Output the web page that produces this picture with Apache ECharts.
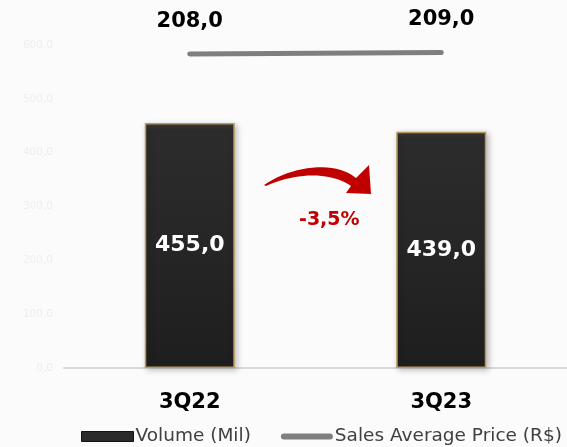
<!DOCTYPE html>
<html><head><meta charset="utf-8">
<script src="https://cdn.jsdelivr.net/npm/echarts@6/dist/echarts.min.js"></script>
<style>html,body{margin:0;padding:0;background:#fbfbfb}#c{width:567px;height:447px}</style>
</head><body><div id="c"></div>
<script>
const categories = ['3Q22', '3Q23'];
const volume = [455.0, 439.0];
const avgPrice = [208.0, 209.0];
const yTicks = [0, 100, 200, 300, 400, 500, 600];
const changeLabel = '-3,5%';
const fmt = v => v.toFixed(1).replace('.', ',');
const font = 'DejaVu Sans';

function bez(p0, p1, p2, p3, n) {
  const out = [];
  for (let i = 0; i <= n; i++) {
    const t = i / n, u = 1 - t;
    out.push([
      u*u*u*p0[0] + 3*u*u*t*p1[0] + 3*u*t*t*p2[0] + t*t*t*p3[0],
      u*u*u*p0[1] + 3*u*u*t*p1[1] + 3*u*t*t*p2[1] + t*t*t*p3[1]
    ]);
  }
  return out;
}
const arrowPts = [].concat(
  bez([264,185],[292,166],[334,160],[356,178],20),
  [[369,165],[371,194],[346,193]],
  bez([351,186],[332,172],[296,172],[266,186],20)
);

const chart = echarts.init(document.getElementById('c'));
chart.setOption({
  backgroundColor: '#fbfbfb',
  animation: false,
  grid: { left: 64, top: 45, width: 506, height: 323 },
  legend: {
    left: 76, top: 422, width: 1000, itemGap: 30, itemWidth: 52, itemHeight: 10,
    textStyle: { fontFamily: font, fontSize: 18.5, color: '#404040', padding: [0,0,0,-3] },
    data: [
      { name: 'Volume (Mil)', icon: 'rect', itemStyle: { color: '#2a2a2a', borderColor: '#111', borderWidth: 1 } },
      { name: 'Sales Average Price (R$)', icon: 'path://M3,0 L49,0 A3,3 0 0 1 49,6 L3,6 A3,3 0 0 1 3,0 Z', itemStyle: { color: '#7f7f7f', opacity: 1 } }
    ]
  },
  xAxis: {
    type: 'category', data: categories,
    axisLine: { lineStyle: { color: '#d9d9d9', width: 2 } },
    axisTick: { show: false },
    axisLabel: { margin: 24, fontFamily: font, fontWeight: 'bold', fontSize: 21, color: '#000' }
  },
  yAxis: [
    { type: 'value', min: 0, max: 600, interval: 100,
      splitLine: { show: false }, axisLine: { show: false }, axisTick: { show: false },
      axisLabel: { margin: 11, fontFamily: font, fontSize: 10.5, color: '#eeeeee', formatter: v => fmt(v) } },
    { type: 'value', min: 0, max: 214, show: false, splitLine: { show: false } }
  ],
  series: [
    { name: 'Volume (Mil)', type: 'bar', data: volume, barWidth: 90,
      itemStyle: {
        color: new echarts.graphic.LinearGradient(0, 0, 0, 1, [
          { offset: 0, color: '#3a3a3a' }, { offset: 0.03, color: '#2c2c2c' },
          { offset: 0.5, color: '#262626' }, { offset: 1, color: '#1e1e1e' }]),
        borderColor: '#b89858', borderWidth: 1.5,
        shadowColor: 'rgba(0,0,0,0.25)', shadowBlur: 6, shadowOffsetX: 2, shadowOffsetY: 2
      },
      label: { show: true, position: 'inside', formatter: p => fmt(p.value),
        fontFamily: font, fontWeight: 'bold', fontSize: 22, color: '#fff' } },
    { name: 'Sales Average Price (R$)', type: 'line', yAxisIndex: 1, data: avgPrice,
      symbol: 'circle', symbolSize: 2, itemStyle: { color: 'rgba(0,0,0,0)', borderWidth: 0 },
      lineStyle: { color: '#7f7f7f', width: 5, cap: 'round' },
      label: { show: true, position: 'top', distance: 21, formatter: p => fmt(p.value),
        fontFamily: font, fontWeight: 'bold', fontSize: 21, color: '#000' } }
  ],
  graphic: [
    { type: 'polygon', shape: { points: arrowPts }, style: { fill: '#c00000' } },
    { type: 'text', left: 299, top: 211, style: { text: changeLabel, fontFamily: font, fontWeight: 'bold', fontSize: 19, fill: '#c00000' } }
  ]
});
</script></body></html>
